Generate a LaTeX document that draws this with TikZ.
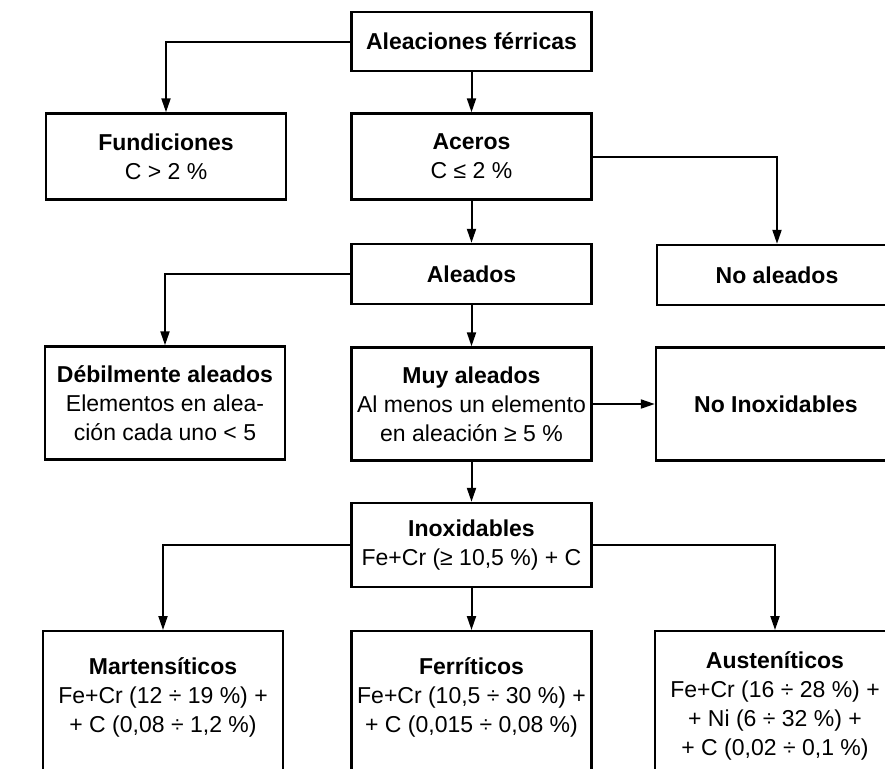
\documentclass[tikz,border=0pt]{standalone}
\usepackage{fontspec}
\setmainfont{Liberation Sans}
\usetikzlibrary{arrows.meta}

\begin{document}
\begin{tikzpicture}[x=0.5pt,y=-0.5pt,
  box/.style={draw,line width=1.2pt,minimum width=120pt,inner xsep=1pt,align=center,
    font=\fontsize{11.5}{14.5}\selectfont},
  tallbox/.style={box,anchor=north,inner ysep=13pt},
  arr/.style={-{Triangle[length=7pt,width=4.5pt]},line width=1pt}]
  \useasboundingbox (0,0) rectangle (885,768);
  \node[box,minimum height=29.5pt] (alea) at (471.5,41.5) {\textbf{Aleaciones férricas}};
  \node[box,minimum height=43pt] (fund) at (166,156.5) {\textbf{Fundiciones}\\C > 2 \%};
  \node[box,minimum height=43pt] (acer) at (471.5,156.5) {\textbf{Aceros}\\C ≤ 2 \%};
  \node[box,minimum height=30pt] (ale) at (471.5,274) {\textbf{Aleados}};
  \node[box,minimum height=30pt] (noale) at (777,275) {\textbf{No aleados}};
  \node[box,minimum height=56.5pt] (debil) at (165,403) {\textbf{Débilmente aleados}\\Elementos en alea-\\ción cada uno < 5};
  \node[box,minimum height=56.5pt] (muy) at (471.5,404) {\textbf{Muy aleados}\\Al menos un elemento\\en aleación ≥ 5 \%};
  \node[box,minimum height=56.5pt] (noinox) at (776,404) {\textbf{No Inoxidables}};
  \node[box,minimum height=42pt] (inox) at (471.5,545) {\textbf{Inoxidables}\\Fe+Cr (≥ 10,5 \%) + C};
  \node[tallbox] (mart) at (163,630) {\textbf{Martensíticos}\\Fe+Cr (12 ÷ 19 \%) +\\+ C (0,08 ÷ 1,2 \%)\rule[-40pt]{0pt}{40pt}};
  \node[tallbox] (ferr) at (471.5,630) {\textbf{Ferríticos}\\Fe+Cr (10,5 ÷ 30 \%) +\\+ C (0,015 ÷ 0,08 \%)\rule[-40pt]{0pt}{40pt}};
  \node[tallbox,inner ysep=10pt] (aust) at (775,630) {\textbf{Austeníticos}\\Fe+Cr (16 ÷ 28 \%) +\\+ Ni (6 ÷ 32 \%) +\\+ C (0,02 ÷ 0,1 \%)\rule[-40pt]{0pt}{40pt}};
  \draw[arr] (alea.west) -| (fund.north);
  \draw[arr] (alea.south) -- (acer.north);
  \draw[arr] (acer.east) -| (noale.north);
  \draw[arr] (acer.south) -- (ale.north);
  \draw[arr] (ale.west) -| (debil.north);
  \draw[arr] (ale.south) -- (muy.north);
  \draw[arr] (muy.east) -- (noinox.west);
  \draw[arr] (muy.south) -- (inox.north);
  \draw[arr] (inox.west) -| (mart.north);
  \draw[arr] (inox.south) -- (ferr.north);
  \draw[arr] (inox.east) -| (aust.north);
\end{tikzpicture}
\end{document}
